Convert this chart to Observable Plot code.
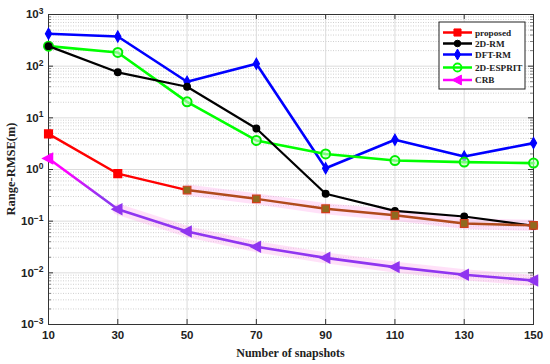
<!DOCTYPE html>
<html><head><meta charset="utf-8">
<script src="https://cdn.jsdelivr.net/npm/d3@7"></script>
<script src="https://cdn.jsdelivr.net/npm/@observablehq/plot@0.6"></script>
<style>html,body{margin:0;padding:0;background:#fff;} #chart{position:relative;width:550px;height:364px;}</style>
</head><body><div id="chart"></div>
<script>
const snapshots = [10, 30, 50, 70, 90, 110, 130, 150];
const proposed = [4.9, 0.83, 0.40, 0.27, 0.174, 0.13, 0.090, 0.083];
const rm2d     = [244, 76, 40, 6.2, 0.34, 0.158, 0.123, 0.081];
const dftrm    = [423, 375, 50, 111, 1.06, 3.76, 1.79, 3.24];
const esprit   = [244, 184, 20.4, 3.65, 2.0, 1.49, 1.39, 1.33];
const crb      = [1.63, 0.17, 0.063, 0.032, 0.0195, 0.0129, 0.0092, 0.0071];
const seriesNames = ["proposed", "2D-RM", "DFT-RM", "2D-ESPRIT", "CRB"];
const xTicks = [10, 30, 50, 70, 90, 110, 130, 150];
const decades = [1e-3, 1e-2, 1e-1, 1e0, 1e1, 1e2, 1e3];
const xLabel = "Number of snapshots";
const yLabel = "Range-RMSE(m)";

const minor = [];
for (let e = -3; e < 3; e++) for (let k = 2; k <= 9; k++) minor.push(k * Math.pow(10, e));
const rows = arr => snapshots.map((s, i) => ({x: s, y: arr[i]}));

const diamond = {draw(ctx, size) { const r = Math.sqrt(size / Math.PI);
  ctx.moveTo(0, -r * 1.25); ctx.lineTo(r * 0.7, 0); ctx.lineTo(0, r * 1.25); ctx.lineTo(-r * 0.7, 0); ctx.closePath(); }};
const leftTri = {draw(ctx, size) { const r = Math.sqrt(size / Math.PI);
  ctx.moveTo(-r * 1.1, 0); ctx.lineTo(r * 0.8, -r); ctx.lineTo(r * 0.8, r); ctx.closePath(); }};

const RED = "#ff0000", BROWN = "#b04a1c", PURPLE = "#9035f0", MAG = "#ff00ff";
const pr = rows(proposed), rm = rows(rm2d), df = rows(dftrm), es = rows(esprit), cr = rows(crb);

const plot = Plot.plot({
  width: 550, height: 364, marginLeft: 48, marginRight: 17, marginTop: 14, marginBottom: 40,
  style: {background: "white", fontFamily: "'Liberation Sans', Arial, sans-serif"},
  x: {domain: [10, 150]},
  y: {type: "log", domain: [1e-3, 1e3]},
  marks: [
    Plot.ruleY(minor, {stroke: "#aaa", strokeDasharray: "1,1.5", strokeWidth: 0.7, strokeOpacity: 0.8}),
    Plot.ruleY(decades, {stroke: "#d8d8d8", strokeWidth: 0.9}),
    Plot.ruleX(xTicks, {stroke: "#d8d8d8", strokeWidth: 0.9}),
    Plot.tickX(xTicks, {x: d => d, insetTop: 305, stroke: "#333"}),
    Plot.tickX(xTicks, {x: d => d, insetBottom: 305, stroke: "#333"}),
    Plot.tickY(decades, {y: d => d, insetRight: 480, stroke: "#333"}),
    Plot.tickY(decades, {y: d => d, insetLeft: 480, stroke: "#333"}),
    Plot.tickY(minor, {y: d => d, insetRight: 482, stroke: "#555", strokeWidth: 0.7}),
    Plot.tickY(minor, {y: d => d, insetLeft: 482, stroke: "#555", strokeWidth: 0.7}),
    Plot.frame({stroke: "#333", strokeWidth: 1}),
    Plot.axisX(xTicks, {tickSize: 0, tickPadding: 6, fontSize: 11.5, fontWeight: "bold", fill: "#222", label: null}),
    Plot.axisY(decades, {tickSize: 0, tickPadding: 5, fontSize: 11.5, fontWeight: "bold", fill: "#222", label: null,
      tickFormat: d => "10^" + Math.round(Math.log10(d))}),
    // halos
    Plot.line(cr.slice(1), {x: "x", y: "y", stroke: "#ff9ae8", strokeOpacity: 0.3, strokeWidth: 11}),
    Plot.line(pr.slice(2), {x: "x", y: "y", stroke: "#ff9ae8", strokeOpacity: 0.3, strokeWidth: 11}),
    // DFT-RM
    Plot.line(df, {x: "x", y: "y", stroke: "#0000ff", strokeWidth: 2.6}),
    Plot.dot(df, {x: "x", y: "y", symbol: diamond, r: 4.4, fill: "#0000ff", stroke: "#0000ff", strokeWidth: 1.2}),
    // 2D-ESPRIT
    Plot.line(es, {x: "x", y: "y", stroke: "#00ff00", strokeWidth: 2.6}),
    Plot.dot(es, {x: "x", y: "y", r: 4.5, fill: "#c8ffc8", fillOpacity: 0.6, stroke: "#00ee00", strokeWidth: 2}),
    // 2D-RM
    Plot.line(rm, {x: "x", y: "y", stroke: "#000", strokeWidth: 2.2}),
    Plot.dot(rm, {x: "x", y: "y", r: 3.2, fill: "#000", stroke: "#000"}),
    // proposed
    Plot.line(pr.slice(0, 3), {x: "x", y: "y", stroke: RED, strokeWidth: 2.4}),
    Plot.line(pr.slice(2), {x: "x", y: "y", stroke: BROWN, strokeWidth: 2.4}),
    Plot.dot(pr.slice(0, 2), {x: "x", y: "y", symbol: "square", r: 4.3, fill: RED, stroke: RED}),
    Plot.dot(pr.slice(2), {x: "x", y: "y", symbol: "square", r: 4.3, fill: "#8e6a1e", stroke: "#d0401a", strokeWidth: 1.2}),
    // CRB
    Plot.line(cr.slice(0, 2), {x: "x", y: "y", stroke: "url(#crbgrad)", strokeWidth: 2.6}),
    Plot.line(cr.slice(1), {x: "x", y: "y", stroke: PURPLE, strokeWidth: 2.6}),
    Plot.dot(cr.slice(0, 1), {x: "x", y: "y", symbol: leftTri, r: 5, fill: MAG, stroke: MAG}),
    Plot.dot(cr.slice(1), {x: "x", y: "y", symbol: leftTri, r: 5, fill: PURPLE, stroke: PURPLE})
  ]
});

const svg = d3.select(plot);
const xs = plot.scale("x"), ys = plot.scale("y");
const defs = svg.insert("defs", ":first-child");
const g = defs.append("linearGradient").attr("id", "crbgrad").attr("gradientUnits", "userSpaceOnUse")
  .attr("x1", xs.apply(10)).attr("x2", xs.apply(30)).attr("y1", ys.apply(crb[0])).attr("y2", ys.apply(crb[1]));
g.append("stop").attr("offset", "0.25").attr("stop-color", MAG);
g.append("stop").attr("offset", "0.75").attr("stop-color", PURPLE);

// superscript tick labels
svg.selectAll("text").each(function() {
  const t = d3.select(this); const s = t.text();
  if (/^10\^-?\d+$/.test(s)) {
    const exp = s.split("^")[1].replace("-", "\u2212");
    t.text("10");
    t.append("tspan").attr("dy", "-0.5em").attr("font-size", "8.5px").text(exp);
  }
});

const serif = "'Liberation Serif', 'Times New Roman', serif";
const [r0, r1] = xs.range;
svg.append("text").attr("x", (r0 + r1) / 2).attr("y", 357).attr("text-anchor", "middle")
  .attr("font-family", serif).attr("font-weight", "bold").attr("font-size", "12px").attr("fill", "#222").text(xLabel);
svg.append("text").attr("transform", `translate(15,${169}) rotate(-90)`).attr("text-anchor", "middle")
  .attr("font-family", serif).attr("font-weight", "bold").attr("font-size", "12.5px").attr("fill", "#222").text(yLabel);

// legend
const leg = svg.append("g").attr("transform", "translate(439,22)");
leg.append("rect").attr("width", 86).attr("height", 67).attr("fill", "white").attr("stroke", "#222").attr("stroke-width", 1);
const legStyles = [
  {c: RED, sym: d3.symbolSquare, size: 50, fill: RED},
  {c: "#000", sym: d3.symbolCircle, size: 34, fill: "#000"},
  {c: "#0000ff", sym: diamond, size: 60, fill: "#0000ff"},
  {c: "#00ff00", sym: d3.symbolCircle, size: 50, fill: "none"},
  {c: MAG, sym: leftTri, size: 75, fill: MAG}
];
const legY = [10.5, 21.5, 32.5, 45.5, 58];
seriesNames.forEach((name, i) => {
  const st = legStyles[i], y = legY[i];
  leg.append("line").attr("x1", 4).attr("x2", 33).attr("y1", y).attr("y2", y).attr("stroke", st.c).attr("stroke-width", 2.5);
  leg.append("path").attr("d", d3.symbol(st.sym, st.size)()).attr("transform", `translate(18.5,${y})`)
    .attr("fill", st.fill).attr("stroke", st.c).attr("stroke-width", i === 3 ? 1.8 : 1);
  leg.append("text").attr("x", 36).attr("y", y + 3.3).attr("text-anchor", "start").attr("font-family", serif).attr("font-weight", "bold")
    .attr("font-size", "9.2px").attr("fill", "#222").text(name);
});

document.getElementById("chart").appendChild(plot);
</script></body></html>
